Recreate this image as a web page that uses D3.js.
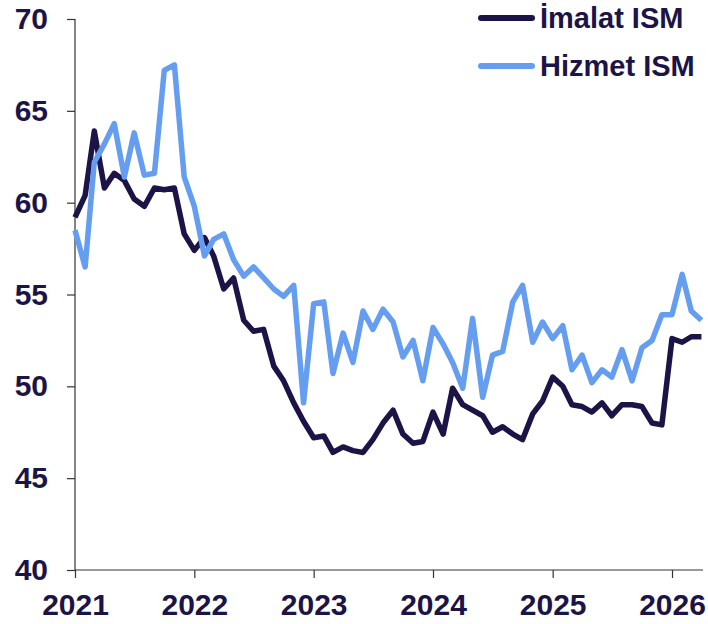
<!DOCTYPE html>
<html lang="tr">
<head>
<meta charset="UTF-8"/>
<title>ISM</title>
<script src="https://d3js.org/d3.v7.min.js"></script>
<style>
  body { margin: 0; background: #fff; }
  text { font-family: "Liberation Sans", Arial, sans-serif; font-weight: bold; fill: #1c1447; }
</style>
</head>
<body>
<script>
    var w = 708;
    var h = 624;

    // monthly data, Jan 2021 - Apr 2026
    var imalat = [
        59.2, 60.4, 63.9, 60.8, 61.6, 61.2, 60.2, 59.8, 60.8, 60.7, 60.8, 58.3,
        57.4, 58.1, 57.1, 55.3, 55.9, 53.6, 53.0, 53.1, 51.1, 50.3, 49.1, 48.1,
        47.2, 47.3, 46.4, 46.7, 46.5, 46.4, 47.1, 48.0, 48.7, 47.4, 46.9, 47.0,
        48.6, 47.4, 49.9, 49.0, 48.7, 48.4, 47.5, 47.8, 47.4, 47.1, 48.5, 49.2,
        50.5, 50.0, 49.0, 48.9, 48.6, 49.1, 48.4, 49.0, 49.0, 48.9, 48.0, 47.9,
        52.6, 52.4, 52.7, 52.7
    ];
    var hizmet = [
        58.5, 56.5, 62.2, 63.2, 64.3, 61.4, 63.8, 61.5, 61.6, 67.2, 67.5, 61.4,
        59.8, 57.1, 58.0, 58.3, 56.9, 56.0, 56.5, 55.9, 55.3, 54.9, 55.5, 49.1,
        54.5, 54.6, 50.7, 52.9, 51.3, 54.1, 53.1, 54.2, 53.5, 51.6, 52.5, 50.3,
        53.2, 52.3, 51.3, 49.9, 53.7, 49.4, 51.7, 51.9, 54.6, 55.5, 52.4, 53.5,
        52.6, 53.3, 50.9, 51.7, 50.2, 50.9, 50.5, 52.0, 50.3, 52.1, 52.5, 53.9,
        53.9, 56.1, 54.1, 53.6
    ];
    var months = d3.timeMonth.range(new Date(2021, 0, 1), new Date(2026, 4, 1));
    var yearTicks = [2021, 2022, 2023, 2024, 2025, 2026];
    var yTicks = [40, 45, 50, 55, 60, 65, 70];
    var seriesNames = ["İmalat ISM", "Hizmet ISM"];
    var colors = ["#1c1447", "#659ef0"];

    var svg = d3.select("body")
        .append("svg")
        .attr("width", w)
        .attr("height", h);

    var xScale = d3.scaleTime()
        .domain([new Date(2021, 0, 1), new Date(2026, 0, 1)])
        .range([75, 672]);

    var yScale = d3.scaleLinear()
        .domain([40, 70])
        .range([570, 19]);

    // axes
    var yAxis = d3.axisLeft(yScale)
        .tickValues(yTicks)
        .tickSize(8)
        .tickPadding(19);

    var xAxis = d3.axisBottom(xScale)
        .tickValues(yearTicks.map(function(y) { return new Date(y, 0, 1); }))
        .tickFormat(d3.timeFormat("%Y"))
        .tickSize(8)
        .tickPadding(16);

    var gy = svg.append("g")
        .attr("transform", "translate(75,0)")
        .call(yAxis);

    var gx = svg.append("g")
        .attr("transform", "translate(0,570)")
        .call(xAxis);

    gy.select(".domain").attr("d", "M0,19V570");
    gx.select(".domain").attr("d", "M75,0H703");

    svg.selectAll(".domain, .tick line")
        .attr("stroke", "#333")
        .attr("stroke-width", 1.2);

    svg.selectAll(".tick text")
        .attr("font-size", "30px")
        .attr("fill", "#1c1447");

    // lines
    var line = d3.line()
        .x(function(d) { return xScale(d[0]); })
        .y(function(d) { return yScale(d[1]); });

    [imalat, hizmet].forEach(function(vals, i) {
        svg.append("path")
            .datum(months.map(function(m, j) { return [m, vals[j]]; }))
            .attr("d", line)
            .attr("fill", "none")
            .attr("stroke", colors[i])
            .attr("stroke-width", 5.5)
            .attr("stroke-linejoin", "round");
    });

    // legend
    var legend = svg.append("g");
    seriesNames.forEach(function(name, i) {
        var ly = 18 + i * 48;
        legend.append("line")
            .attr("x1", 481).attr("x2", 532)
            .attr("y1", ly).attr("y2", ly)
            .attr("stroke", colors[i])
            .attr("stroke-width", 6)
            .attr("stroke-linecap", "round");
        legend.append("text")
            .attr("x", 540)
            .attr("y", ly + 10)
            .attr("font-size", "29px")
            .text(name);
    });
</script>
</body>
</html>
